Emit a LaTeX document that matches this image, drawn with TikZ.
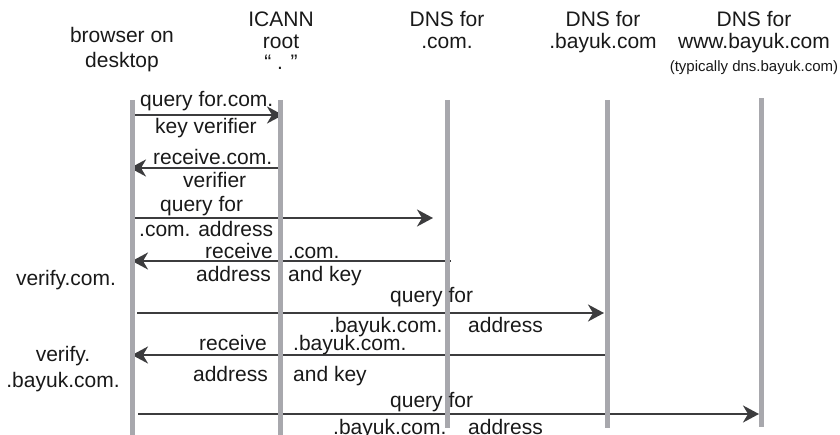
\documentclass[tikz,border=0pt]{standalone}
\usepackage{fontspec}
\setmainfont{Liberation Sans}
\usetikzlibrary{arrows.meta}
\definecolor{lifegray}{RGB}{168,168,173}
\definecolor{msggray}{RGB}{60,60,62}
\definecolor{txt}{RGB}{25,25,25}
\tikzset{
  lifeline/.style={draw=lifegray,line width=5pt},
  msg/.style={draw=msggray,line width=2.2pt,-{Stealth[length=16pt,width=17pt,inset=5pt]}},
  lbl/.style={inner sep=0pt,text=txt,font=\fontsize{21}{24}\selectfont},
  small/.style={inner sep=0pt,text=txt,font=\fontsize{15}{18}\selectfont},
}
\begin{document}
\begin{tikzpicture}[x=1pt,y=-1pt]
\useasboundingbox (0,0) rectangle (840,435);
% header texts
\node[lbl,anchor=base] (hb1) at (122,43) {browser on};
\node[lbl,anchor=base] (hb2) at (122,68) {desktop};
\node[lbl,anchor=base] (hi1) at (281,27) {ICANN};
\node[lbl,anchor=base] (hi2) at (281,49) {root};
\node[lbl,anchor=base] (hi3) at (281,70) {“ . ”};
\node[lbl,anchor=base] (hc1) at (447,27) {DNS for};
\node[lbl,anchor=base] (hc2) at (447,49) {.com.};
\node[lbl,anchor=base] (hy1) at (603,27) {DNS for};
\node[lbl,anchor=base] (hy2) at (603,49) {.bayuk.com};
\node[lbl,anchor=base] (hw1) at (754,27) {DNS for};
\node[lbl,anchor=base] (hw2) at (754,49) {www.bayuk.com};
\node[small,anchor=base] (hw3) at (754,72) {(typically dns.bayuk.com)};
% lifeline ends
\coordinate (Bt) at (132,100); \coordinate (Bb) at (132,435);
\coordinate (It) at (280,100); \coordinate (Ib) at (280,435);
\coordinate (Ct) at (447,100); \coordinate (Cb) at (447,428);
\coordinate (Yt) at (607,100); \coordinate (Yb) at (607,428);
\coordinate (Wt) at (761,98);  \coordinate (Wb) at (761,427);
% message end points
\coordinate (m1s) at (135,115); \coordinate (m1e) at (283,115);
\coordinate (m2s) at (278,168); \coordinate (m2e) at (130,168);
\coordinate (m3s) at (135,218); \coordinate (m3e) at (433,218);
\coordinate (m4s) at (451,261); \coordinate (m4e) at (132,261);
\coordinate (m5s) at (137,313); \coordinate (m5e) at (604,313);
\coordinate (m6s) at (605,355); \coordinate (m6e) at (132,355);
\coordinate (m7s) at (138,414); \coordinate (m7e) at (759,414);
% messages
\draw[msg] (m1s) -- (m1e);
\draw[msg] (m2s) -- (m2e);
\draw[msg] (m3s) -- (m3e);
\draw[msg] (m4s) -- (m4e);
\draw[msg] (m5s) -- (m5e);
\draw[msg] (m6s) -- (m6e);
\draw[msg] (m7s) -- (m7e);
% lifelines
\draw[lifeline] (Bt) -- (Bb);
\draw[lifeline] (It) -- (Ib);
\draw[lifeline] (Ct) -- (Cb);
\draw[lifeline] (Yt) -- (Yb);
\draw[lifeline] (Wt) -- (Wb);
% message labels
\node[lbl,anchor=base west] (l1a) at (140,107) {query for.com.};
\node[lbl,anchor=base west] (l1b) at (155,134) {key verifier};
\node[lbl,anchor=base west] (l2a) at (153,165) {receive.com.};
\node[lbl,anchor=base west] (l2b) at (183,188) {verifier};
\node[lbl,anchor=base west] (l3a) at (160,212) {query for};
\node[lbl,anchor=base west] (l3b) at (139,237) {.com. address};
\node[lbl,anchor=base east] (l4a) at (273,259) {receive};
\node[lbl,anchor=base west] (l4b) at (288,259) {.com.};
\node[lbl,anchor=base east] (l4c) at (271,282) {address};
\node[lbl,anchor=base west] (l4d) at (288,282) {and key};
\node[lbl,anchor=base] (v1) at (66,286) {verify.com.};
\node[lbl,anchor=base west] (l5a) at (390,303) {query for};
\node[lbl,anchor=base west] (l5b) at (329,332) {.bayuk.com.};
\node[lbl,anchor=base west] (l5c) at (468,332) {address};
\node[lbl,anchor=base east] (l6a) at (267,350) {receive};
\node[lbl,anchor=base west] (l6b) at (293,350) {.bayuk.com.};
\node[lbl,anchor=base east] (l6c) at (268,381) {address};
\node[lbl,anchor=base west] (l6d) at (293,381) {and key};
\node[lbl,anchor=base] (v2a) at (63,361) {verify.};
\node[lbl,anchor=base] (v2b) at (63,387) {.bayuk.com.};
\node[lbl,anchor=base west] (l7a) at (390,407) {query for};
\node[lbl,anchor=base west] (l7b) at (333,434) {.bayuk.com.};
\node[lbl,anchor=base west] (l7c) at (468,434) {address};
\end{tikzpicture}
\end{document}
